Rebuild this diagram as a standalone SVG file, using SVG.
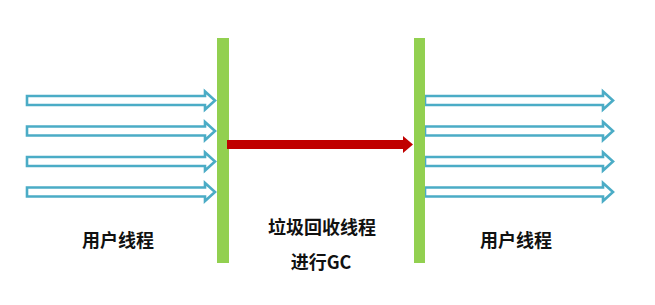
<svg xmlns="http://www.w3.org/2000/svg" width="655" height="305" viewBox="0 0 655 305">
<style>
.bar{fill:#92d050}
.ua{fill:#fff;stroke:#4bacc6;stroke-width:2.6;stroke-linejoin:miter}
.t{font-family:"Noto Sans CJK SC","Noto Sans",sans-serif;font-weight:bold;font-size:18px;fill:#111;text-anchor:middle}
</style>
<defs>
<path id="ua" class="ua" d="M0,-4.5 H178 V-9 L188,0 L178,9 V4.5 H0 Z"/>
</defs>
<rect width="655" height="305" fill="#fff"/>
<g id="left-threads">
<use href="#ua" x="27" y="100.5"/>
<use href="#ua" x="27" y="131"/>
<use href="#ua" x="27" y="161.5"/>
<use href="#ua" x="27" y="192"/>
</g>
<g id="right-threads">
<use href="#ua" x="425" y="100.5"/>
<use href="#ua" x="425" y="131"/>
<use href="#ua" x="425" y="161.5"/>
<use href="#ua" x="425" y="192"/>
</g>
<g id="bar-left"><rect class="bar" x="217" y="38" width="12" height="225"/></g>
<g id="bar-right"><rect class="bar" x="414" y="38" width="11" height="225"/></g>
<g id="connectors">
<path d="M227,140 H403 V136 L413,144.5 L403,153 V149 H227 Z" fill="#c00000"/>
</g>
<g id="labels">
<text class="t" x="118" y="247">用户线程</text>
<text class="t" x="322" y="234">垃圾回收线程</text>
<text class="t" x="321" y="269">进行GC</text>
<text class="t" x="516" y="247">用户线程</text>
</g>
</svg>
